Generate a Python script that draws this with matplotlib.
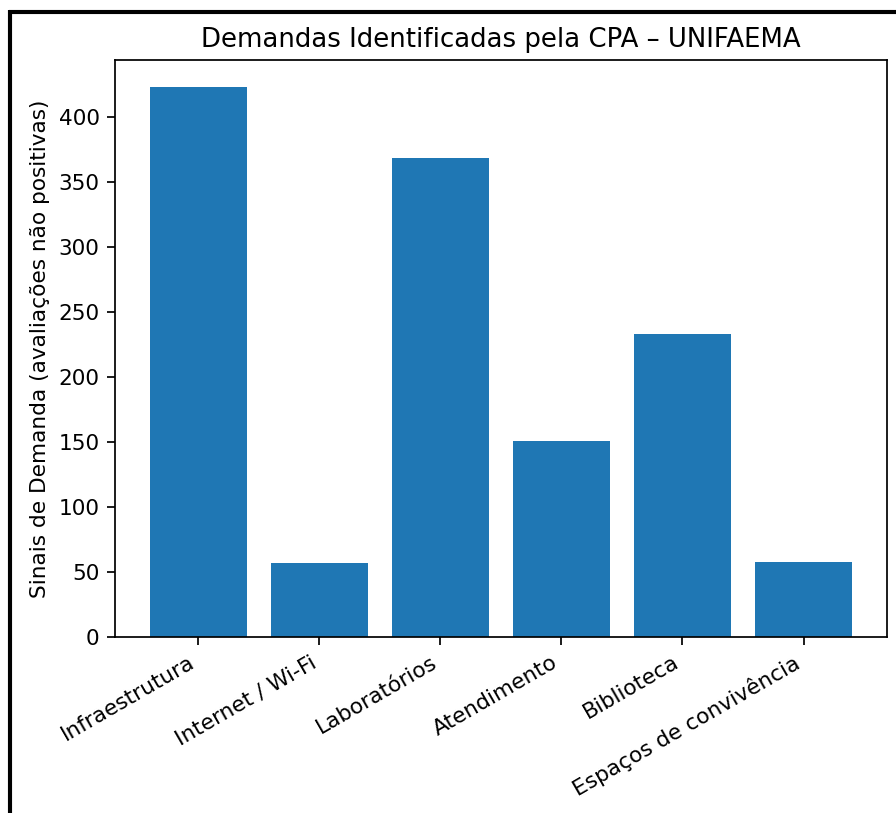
import matplotlib.pyplot as plt
from matplotlib.lines import Line2D

# Dados
categorias = ['Infraestrutura', 'Internet / Wi-Fi', 'Laboratórios',
              'Atendimento', 'Biblioteca', 'Espaços de convivência']
sinais = [423, 57, 369, 151, 233, 58]

DPI = 156
fig = plt.figure(figsize=(896 / DPI, 813 / DPI), dpi=DPI)
ax = fig.add_axes([0.128, 0.2165, 0.862, 0.7097])

ax.bar(categorias, sinais, color='#1f77b4')
ax.set_title('Demandas Identificadas pela CPA – UNIFAEMA', fontsize=12)
ax.set_ylabel('Sinais de Demanda (avaliações não positivas)')
plt.setp(ax.get_xticklabels(), rotation=30, ha='right')

# moldura preta do recorte (topo e esquerda)
fig.add_artist(Line2D([0.0105, 1.0], [0.9855, 0.9855], color='black', lw=1.9,
                      transform=fig.transFigure, solid_capstyle='butt'))
fig.add_artist(Line2D([0.0112, 0.0112], [0.0, 0.9873], color='black', lw=1.9,
                      transform=fig.transFigure, solid_capstyle='butt'))

fig.savefig('out.png', dpi=DPI)
